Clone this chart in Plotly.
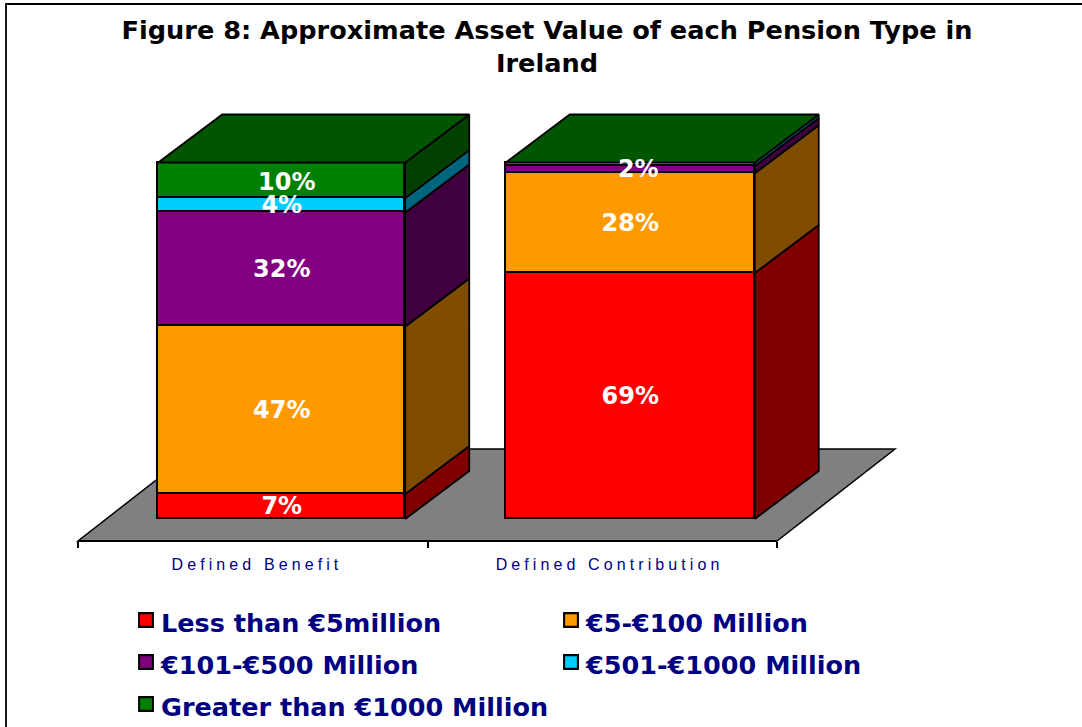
import plotly.graph_objects as go

# ---- data ----
CATEGORIES = ["Defined Benefit", "Defined Contribution"]
SERIES = ["Less than €5million", "€5-€100 Million", "€101-€500 Million",
          "€501-€1000 Million", "Greater than €1000 Million"]
LESS_5 = [7, 69]
M5_100 = [47, 28]
M101_500 = [32, 2]
M501_1000 = [4, 1]
OVER_1000 = [10, 0]
VALUES = [LESS_5, M5_100, M101_500, M501_1000, OVER_1000]
LABELS = [["7%", "69%"], ["47%", "28%"], ["32%", "2%"], ["4%", ""], ["10%", ""]]
FRONT = ["#FF0000", "#FF9900", "#800080", "#00CCFF", "#008000"]
SIDE = ["#800000", "#804D00", "#400040", "#006680", "#004000"]
TOP_COLOR = "#005500"
TICKS = [0, 1, 2]

# ---- oblique projection, in axis units ----
W, H = 1082, 727
X_LEFT, X_RIGHT = 78, 777     # pixel span of category axis
AXIS_Y = 541
Y_ZERO, PX_PER_PCT = 519, 3.565
UNIT = (X_RIGHT - X_LEFT) / 2
XRANGE = [-X_LEFT / UNIT, (W - X_LEFT) / UNIT]
YRANGE = [(Y_ZERO - H) / PX_PER_PCT, Y_ZERO / PX_PER_PCT]
BAR_WIDTHS = [0.7067, 0.7124]
BAR_SHIFT_X, BAR_DEPTH_X = 28 / UNIT, 64 / UNIT
BAR_DEPTH_Y = 48 / PX_PER_PCT
FLOOR_FRONT_Y = (Y_ZERO - AXIS_Y) / PX_PER_PCT
FLOOR_DX, FLOOR_DY = 118 / UNIT, 92 / PX_PER_PCT
OUT = "#000000"
LW = 1.8

centers = [i + 0.5 + BAR_SHIFT_X + (max(BAR_WIDTHS) - w) / 2 for i, w in enumerate(BAR_WIDTHS)]
fig = go.Figure()

# front faces, native stacked bars
for name, vals, col in zip(SERIES, VALUES, FRONT):
    fig.add_bar(x=centers, y=vals, name=name, width=BAR_WIDTHS,
                marker=dict(color=col, line=dict(color=OUT, width=LW)),
                hoverinfo="skip")

# side faces and top faces derived from the stack
for s, (vals, col) in enumerate(zip(VALUES, SIDE)):
    xs, ys = [], []
    for c in range(len(CATEGORIES)):
        base = sum(VALUES[k][c] for k in range(s))
        top = base + vals[c]
        if vals[c] == 0:
            continue
        xr = centers[c] + BAR_WIDTHS[c] / 2
        xs += [xr, xr + BAR_DEPTH_X, xr + BAR_DEPTH_X, xr, xr, None]
        ys += [base, base + BAR_DEPTH_Y, top + BAR_DEPTH_Y, top, base, None]
    fig.add_scatter(x=xs, y=ys, mode="lines", fill="toself", fillcolor=col,
                    line=dict(color=OUT, width=LW), showlegend=False,
                    hoverinfo="skip")

xs, ys = [], []
for c in range(len(CATEGORIES)):
    total = sum(v[c] for v in VALUES)
    xl, xr = centers[c] - BAR_WIDTHS[c] / 2, centers[c] + BAR_WIDTHS[c] / 2
    xs += [xl, xr, xr + BAR_DEPTH_X, xl + BAR_DEPTH_X, xl, None]
    ys += [total, total, total + BAR_DEPTH_Y, total + BAR_DEPTH_Y, total, None]
fig.add_scatter(x=xs, y=ys, mode="lines", fill="toself", fillcolor=TOP_COLOR,
                line=dict(color=OUT, width=LW), showlegend=False, hoverinfo="skip")

# data labels (small nudge in pixels keeps them where the reference puts them)
LABEL_DY_PX = 1.5
NUDGES = {(4, 0): (5, 2), (2, 1): (8, 0)}
lx, ly, lt = [], [], []
for s, labs in enumerate(LABELS):
    for c, t in enumerate(labs):
        if t:
            nx, ny = NUDGES.get((s, c), (0, 0))
            lx.append(centers[c] + nx / UNIT)
            ly.append(sum(VALUES[k][c] for k in range(s)) + VALUES[s][c] / 2
                      - (LABEL_DY_PX + ny) / PX_PER_PCT)
            lt.append(t)
fig.add_scatter(x=lx, y=ly, text=lt, mode="text", showlegend=False, hoverinfo="skip",
                textposition="middle center",
                textfont=dict(family="DejaVu Sans", size=24, color="white", weight="bold"))

# category axis carrier
fig.add_scatter(x=[0.5, 1.5], y=[0, 0], xaxis="x2", yaxis="y", mode="none",
                showlegend=False, hoverinfo="skip")

# floor
fig.add_shape(type="path", layer="below", xref="x", yref="y",
              path=(f"M0,{FLOOR_FRONT_Y} L2,{FLOOR_FRONT_Y} "
                    f"L{2 + FLOOR_DX},{FLOOR_FRONT_Y + FLOOR_DY} "
                    f"L{FLOOR_DX},{FLOOR_FRONT_Y + FLOOR_DY} Z"),
              fillcolor="#808080", line=dict(color="#000000", width=1.5))

# chart border
fig.add_shape(type="rect", xref="paper", yref="paper", x0=6 / W, x1=1.01, y0=-0.1, y1=1 - 4 / H,
              line=dict(color="#000000", width=1.8), fillcolor="rgba(0,0,0,0)")

fig.update_layout(
    width=W, height=H, margin=dict(l=0, r=0, t=0, b=0, autoexpand=False),
    paper_bgcolor="white", plot_bgcolor="rgba(0,0,0,0)", barmode="stack", bargap=0,
    title=dict(text="Figure 8: Approximate Asset Value of each Pension Type in<br>Ireland",
               x=547 / W, xanchor="center", y=1 - 39 / H, yanchor="middle",
               font=dict(family="DejaVu Sans", size=25.6, color="#000000", weight="bold")),
    xaxis=dict(range=XRANGE, visible=False, domain=[0, 1]),
    yaxis=dict(range=YRANGE, visible=False, domain=[0, 1]),
    xaxis2=dict(domain=[X_LEFT / W, X_RIGHT / W], range=[0, 2], anchor="free",
                position=(H - AXIS_Y) / H, showline=True, linecolor="#000000", linewidth=1.8,
                showgrid=False, zeroline=False, ticks="",
                tickmode="array", tickvals=[0.5 + 0.012, 1.5 + 0.021], ticktext=CATEGORIES,
                ticklabelstandoff=9,
                tickfont=dict(family="Liberation Sans", size=16, color="#000080"),
                minor=dict(tickmode="array", tickvals=TICKS, ticks="outside", ticklen=6,
                           tickwidth=1.5, tickcolor="#000000", showgrid=False)),
    legend=dict(orientation="h", x=121 / W, xanchor="left", y=1 - 594 / H, yanchor="top",
                traceorder="normal", entrywidth=380, entrywidthmode="pixels",
                bgcolor="rgba(0,0,0,0)", borderwidth=0, itemclick=False, itemdoubleclick=False,
                font=dict(family="DejaVu Sans", size=30, color="#000080", weight="bold")),
    showlegend=True,
)

POST = """
document.body.style.margin = '0';
var gd = document.getElementById('{plot_id}');
gd.querySelectorAll('.x2tick text').forEach(function(t){ t.style.letterSpacing='4.1px'; });
gd.querySelectorAll('.legendtext').forEach(function(t){ t.style.fontSize='25.5px'; });
gd.querySelectorAll('.legendpoints path').forEach(function(p){
  p.setAttribute('transform', (p.getAttribute('transform') || '') + ' translate(5,0) scale(1.15)');
});
"""
fig.write_html("out.html", post_script=POST, config={"displayModeBar": False})
